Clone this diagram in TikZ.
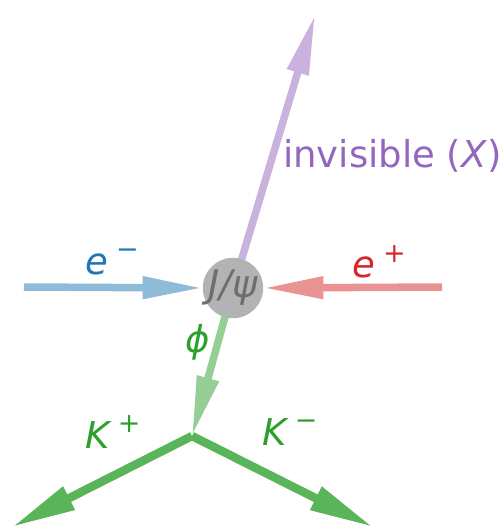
\documentclass[tikz,border=0pt]{standalone}
\usepackage{fontspec}
\setmainfont{DejaVu Sans}
\usetikzlibrary{arrows.meta,backgrounds}
\definecolor{eminus}{RGB}{31,119,180}
\definecolor{eplus}{RGB}{214,39,40}
\definecolor{invis}{RGB}{148,103,189}
\definecolor{kaon}{RGB}{44,160,44}
\definecolor{blobgray}{RGB}{179,179,179}
\definecolor{blobtext}{RGB}{110,110,110}
\newcommand{\supmark}[1]{\hspace{8pt}\raisebox{0.42em}{\fontsize{27}{27}\selectfont #1}}
\tikzset{
  partarrow/.style={line width=7.5pt,color=#1,
    -{Triangle[length=60pt,width=21pt]}},
  kaonarrow/.style={line width=8.5pt,color=kaon!78,
    -{Triangle[length=64pt,width=24pt]}},
  partlabel/.style={font=\fontsize{37}{44}\selectfont,text=#1,inner sep=0pt},
}

\begin{document}
\begin{tikzpicture}[x=1pt,y=-1pt]
\useasboundingbox (0,0) rectangle (503,529);

%% -- nodes ------------------------------------------------------------------
\node[circle,fill=blobgray,minimum size=60pt,inner sep=0pt,
      font=\fontsize{38}{44}\selectfont,text=blobtext] (jpsi) at (233,288)
      {\itshape J/ψ};
\coordinate (emin) at (24,287);
\coordinate (eplu) at (442,287);
\coordinate (xend) at (315,15);
\coordinate (vtx) at (192,436);
\coordinate (kpend) at (12,527);
\coordinate (kmend) at (373,527);

%% -- arrows -----------------------------------------------------------------
\begin{scope}[on background layer]
\draw[partarrow=invis!50] (jpsi.center) -- (xend);
\draw[partarrow=kaon!50] (jpsi.center) -- (vtx);
\end{scope}
\draw[partarrow=eminus!50] (emin) -- (jpsi.west);
\draw[partarrow=eplus!50] (eplu) -- (jpsi.east);
\draw[kaonarrow] (vtx) -- (kpend);
\draw[kaonarrow] (vtx) -- (kmend);

%% -- labels -----------------------------------------------------------------
\node[partlabel=eminus] (lem) at (112,262) {\itshape e\supmark{−}};
\node[partlabel=eplus] (lep) at (379,262) {\itshape e\supmark{+}};
\node[partlabel=invis,anchor=base west] (linv) at (283,168)
     {invisible (\textit{X})};
\node[partlabel=kaon] (lphi) at (198,342) {\itshape ϕ};
\node[partlabel=kaon] (lkp) at (113,432) {\itshape K\supmark{+}};
\node[partlabel=kaon] (lkm) at (290,432) {\itshape K\supmark{−}};

\end{tikzpicture}
\end{document}
